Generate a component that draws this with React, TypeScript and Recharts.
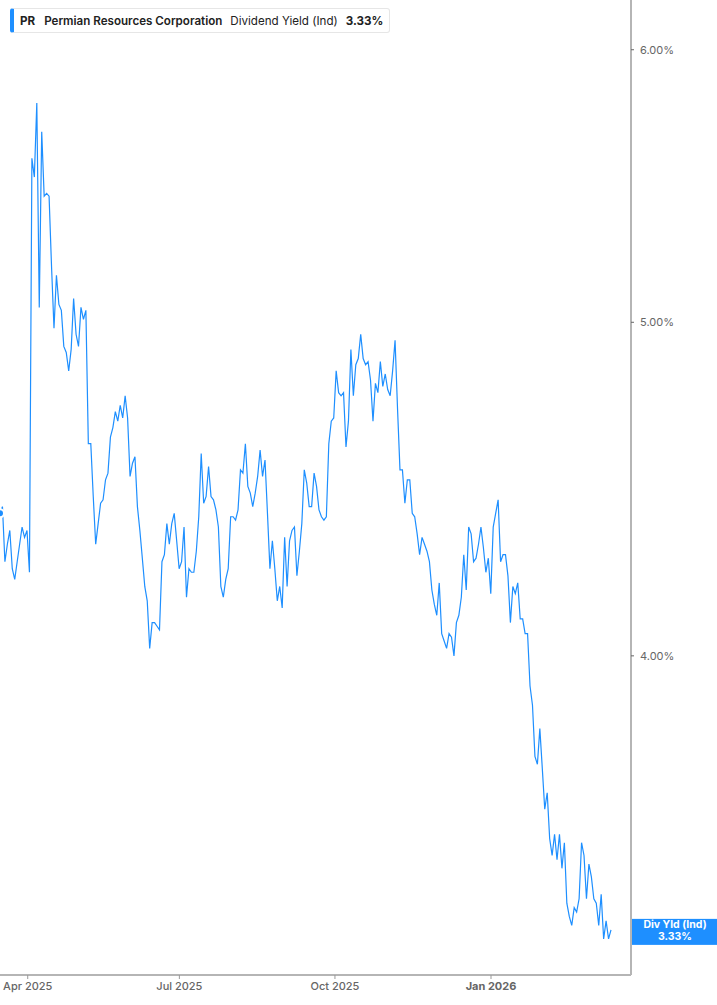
import React from 'react';
import { LineChart, Line, XAxis, YAxis, ReferenceLine } from 'recharts';

// daily dividend yield (%), oldest first
const yieldValues: number[] = [
  4.40, 4.42, 4.26, 4.31, 4.35, 4.24, 4.21, 4.26, 4.31, 4.36,
  4.33, 4.35, 4.23, 5.58, 5.51, 5.79, 5.05, 5.68, 5.44, 5.45,
  5.44, 5.19, 4.98, 5.16, 5.06, 5.04, 4.92, 4.90, 4.84, 4.91,
  5.08, 4.96, 4.92, 5.05, 5.01, 5.04, 4.61, 4.61, 4.45, 4.31,
  4.37, 4.43, 4.44, 4.50, 4.52, 4.63, 4.66, 4.71, 4.68, 4.73,
  4.69, 4.76, 4.69, 4.51, 4.55, 4.57, 4.42, 4.35, 4.27, 4.19,
  4.15, 4.02, 4.09, 4.09, 4.08, 4.07, 4.26, 4.28, 4.37, 4.31,
  4.37, 4.40, 4.32, 4.24, 4.26, 4.36, 4.16, 4.24, 4.23, 4.23,
  4.29, 4.39, 4.58, 4.43, 4.45, 4.54, 4.45, 4.44, 4.41, 4.36,
  4.19, 4.16, 4.21, 4.24, 4.39, 4.39, 4.38, 4.41, 4.53, 4.52,
  4.61, 4.48, 4.46, 4.42, 4.46, 4.51, 4.59, 4.51, 4.56, 4.40,
  4.24, 4.32, 4.24, 4.15, 4.19, 4.13, 4.33, 4.19, 4.32, 4.35,
  4.36, 4.22, 4.29, 4.37, 4.53, 4.49, 4.42, 4.42, 4.52, 4.48,
  4.41, 4.39, 4.38, 4.39, 4.61, 4.68, 4.69, 4.84, 4.77, 4.76,
  4.77, 4.60, 4.68, 4.91, 4.76, 4.86, 4.88, 4.96, 4.88, 4.86,
  4.87, 4.81, 4.68, 4.80, 4.77, 4.87, 4.79, 4.83, 4.78, 4.76,
  4.84, 4.94, 4.72, 4.53, 4.53, 4.43, 4.50, 4.50, 4.40, 4.39,
  4.34, 4.28, 4.33, 4.31, 4.29, 4.26, 4.18, 4.14, 4.11, 4.20,
  4.06, 4.04, 4.02, 4.06, 4.05, 4.00, 4.09, 4.11, 4.16, 4.28,
  4.18, 4.36, 4.34, 4.26, 4.27, 4.31, 4.36, 4.30, 4.23, 4.27,
  4.17, 4.36, 4.40, 4.44, 4.26, 4.28, 4.28, 4.22, 4.09, 4.19,
  4.17, 4.20, 4.10, 4.10, 4.06, 4.06, 3.92, 3.87, 3.74, 3.72,
  3.81, 3.71, 3.61, 3.65, 3.54, 3.50, 3.55, 3.49, 3.55, 3.47,
  3.53, 3.39, 3.36, 3.34, 3.38, 3.37, 3.40, 3.53, 3.50, 3.40,
  3.48, 3.45, 3.40, 3.39, 3.34, 3.41, 3.31, 3.35, 3.31, 3.33,
];

const xTickLabels = ['Apr 2025', 'Jul 2025', 'Oct 2025', 'Jan 2026'];
const xTickIndex = [11.3, 73.1, 136.5, 200.1];
const yTicks = [4, 5, 6];

const lastValue = yieldValues[yieldValues.length - 1];
const data = yieldValues.map((value, i) => ({ i, value }));

const BLUE = '#1e8fff';
const AXIS = '#b5b5b5';
const FONT = 'Inter, "Noto Sans", sans-serif';

const XTick = (props: any) => {
  const { x, y, payload } = props;
  const idx = xTickIndex.indexOf(payload.value);
  const label = xTickLabels[idx] ?? '';
  return (
    <text
      x={x}
      y={y + 9}
      textAnchor="middle"
      fill="#666"
      fontSize={11}
      fontFamily={FONT}
      fontWeight={label === 'Jan 2026' ? 700 : 500}
    >
      {label}
    </text>
  );
};

const LastBadge = (props: any) => {
  const { viewBox } = props;
  const left = viewBox.x + viewBox.width + 1;
  const y = viewBox.y;
  return (
    <g>
      <rect x={left} y={y - 11} width={86} height={26} fill={BLUE} />
      <text x={left + 43} y={y - 1.5} textAnchor="middle" fill="#fff" fontSize={10.5} fontWeight={700} fontFamily={FONT}>
        Div Yld (Ind)
      </text>
      <text x={left + 43} y={y + 10} textAnchor="middle" fill="#fff" fontSize={10.5} fontWeight={700} fontFamily={FONT}>
        {lastValue.toFixed(2)}%
      </text>
    </g>
  );
};

const App: React.FC = () => {
  return (
    <div style={{ position: 'absolute', left: 0, top: 0, width: 717, height: 1005, background: '#fff', fontFamily: FONT }}>
      <LineChart width={717} height={1005} data={data} margin={{ top: 0, right: 0, left: 0, bottom: 0 }}>
        <XAxis
          dataKey="i"
          type="number"
          domain={[0, 257.15]}
          ticks={xTickIndex}
          tick={<XTick />}
          height={30}
          stroke={AXIS}
          axisLine={{ stroke: AXIS, strokeWidth: 2 }}
          tickLine={{ stroke: '#999' }}
          tickSize={4}
          allowDataOverflow
        />
        <YAxis
          orientation="right"
          type="number"
          scale="log"
          domain={[3.231, 6.203]}
          allowDataOverflow
          ticks={yTicks}
          tickFormatter={(v: number) => `${v.toFixed(2)}%`}
          width={86}
          axisLine={{ stroke: AXIS, strokeWidth: 2 }}
          tickLine={{ stroke: '#666' }}
          tickSize={3}
          tickMargin={6}
          tick={{ fill: '#666', fontSize: 11, fontFamily: FONT }}
        />
        <ReferenceLine y={lastValue} strokeOpacity={0} label={<LastBadge />} />
        <Line
          type="linear"
          dataKey="value"
          stroke={BLUE}
          strokeWidth={1.2}
          dot={false}
          isAnimationActive={false}
        />
      </LineChart>
      <div
        style={{
          position: 'absolute',
          left: 10,
          top: 8,
          width: 380,
          height: 25,
          boxSizing: 'border-box',
          border: '1px solid #e6e6e6',
          borderLeft: `4px solid ${BLUE}`,
          borderRadius: 3,
          background: '#fff',
          display: 'flex',
          alignItems: 'center',
          paddingLeft: 6,
          fontSize: 11.6,
          color: '#222',
          whiteSpace: 'nowrap',
        }}
      >
        <span style={{ fontWeight: 700, marginRight: 9 }}>PR</span>
        <span style={{ fontWeight: 600, marginRight: 8 }}>Permian Resources Corporation</span>
        <span style={{ fontWeight: 400, marginRight: 8 }}>Dividend Yield (Ind)</span>
        <span style={{ fontWeight: 700 }}>{lastValue.toFixed(2)}%</span>
      </div>
    </div>
  );
};

export default App;
